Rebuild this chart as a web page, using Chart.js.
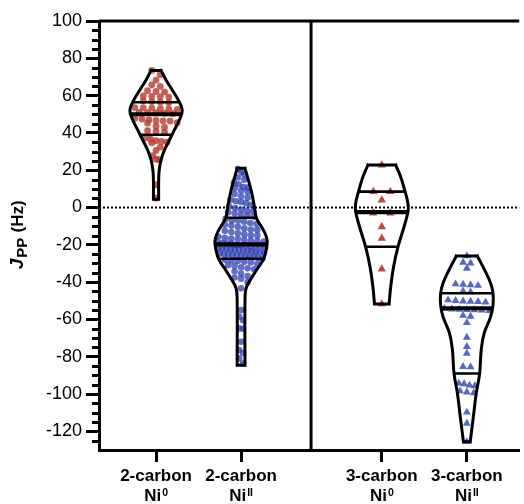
<!DOCTYPE html>
<html>
<head>
<meta charset="utf-8">
<script src="https://cdn.jsdelivr.net/npm/chart.js@4.4.1/dist/chart.umd.min.js"></script>
<style>
  html, body { margin: 0; padding: 0; background: #fff; }
</style>
</head>
<body>
<canvas id="violinChart" width="524" height="504"></canvas>
<script>
// categories, placed on a linear x axis (gap between the two families)
var groupNames = ['2-carbon', '2-carbon', '3-carbon', '3-carbon'];
var groupSup = ['0', 'II', '0', 'II'];
var groupPos = [1, 2, 3.655, 4.655];
var dividerPos = 2.823;
var xMin = 0.329, xMax = 5.271;

// y tick labels
var yMajorTicks = [-120, -100, -80, -60, -40, -20, 0, 20, 40, 60, 80, 100];
var yMin = -130, yMax = 100;

// J_PP values (Hz)
var c2Ni0 = [73.5, 71.2, 68.3, 65.8, 65.0, 62.6, 62.2, 62.0, 59.8, 59.4, 59.2, 59.6,
  57.1, 56.8, 56.5, 56.2, 53.6, 53.3, 53.0, 52.8, 53.4, 52.6, 51.0, 50.8, 50.6, 50.9, 50.4,
  47.8, 47.4, 47.0, 46.7, 46.5, 46.4, 45.5, 45.2, 43.6, 43.1, 41.2, 40.8, 40.4,
  37.4, 36.6, 35.8, 35.4, 35.1, 34.7, 32.4, 30.6, 27.8, 25.9, 25.6, 12.2, 5.0];
var c2NiII = [20.6, 19.2, 17.8, 16.1, 14.9, 13.2, 12.5, 11.0, 10.3, 9.1, 8.4, 7.2, 6.0, 5.3,
  4.1, 3.4, 2.2, 1.5, 0.6, -0.3, -1.1, -1.8, -2.6, -3.2, -3.9, -4.5, -5.0, 10.8, 3.0, -2.0,
  -6.1, -6.8, -7.6, -8.3, -8.9, -9.7, -10.4, -11.2, -11.8, -12.5, -13.1, -13.8, -14.4, -15.0,
  -15.7, -16.3, -16.9, -17.4, -18.0, -18.6, -19.1, -19.5, -9.2, -12.0, -14.9, -16.6, -17.8,
  -18.3, -19.3, -7.1,
  -20.1, -20.4, -20.7, -21.0, -21.3, -21.7, -22.0, -22.4, -22.8, -23.1, -23.5, -23.9, -24.3,
  -24.6, -25.0, -25.4, -25.8, -26.2, -26.6, -27.0, -27.3, -20.9, -21.9, -22.6, -23.3, -24.0,
  -24.9, -25.6, -26.4, -20.2,
  -28.0, -28.7, -29.5, -30.3, -31.2, -32.0, -33.1, -34.2, -35.4, -36.8, -38.2, -40.1, -43.3,
  -55.0, -58.4, -60.4, -64.8, -65.0, -72.0, -76.4, -78.0, -80.9, -83.6, -29.1, -30.9, -32.6,
  -28.4, -37.5];
var c3Ni0 = [22.8, 8.5, 8.5, 4.0, -3.0, -3.0, -10.3, -16.5, -33.0, -51.7];
var c3NiII = [-26.0, -29.4, -29.8, -32.6, -41.2, -41.8, -41.5, -41.0, -44.8, -45.3,
  -49.6, -50.3, -50.8, -49.9, -50.2, -50.5, -54.6, -54.8, -55.3, -54.5, -54.2, -54.9, -55.1,
  -57.9, -58.4, -61.8, -69.6, -74.6, -78.2, -85.3, -85.5, -94.2, -94.6, -95.3, -95.6,
  -98.4, -99.0, -99.4, -109.8, -115.7, -125.6];

// violin outlines: levels (Hz) and relative width at each level
var c2Ni0Levels = [73.5, 68.4, 63.0, 57.6, 52.3, 46.9, 41.6, 36.2, 30.8, 25.5, 20.0, 14.7, 4.5];
var c2Ni0Density = [0.19, 0.38, 0.62, 0.85, 1.0, 0.89, 0.70, 0.51, 0.32, 0.19, 0.12, 0.10, 0.10];
var c2NiIILevels = [21.0, 14.7, 7.6, 0.4, -5.8, -10.3, -14.7, -18.3, -22.8, -28.1, -33.5, -38.9, -43.3, -49.6, -84.5];
var c2NiIIDensity = [0.15, 0.28, 0.41, 0.51, 0.59, 0.78, 0.94, 1.0, 0.96, 0.84, 0.59, 0.35, 0.19, 0.15, 0.15];
var c3Ni0Levels = [22.8, 16.5, 8.5, 2.2, -2.2, -10.3, -21.0, -31.7, -42.5, -51.7];
var c3Ni0Density = [0.53, 0.72, 0.89, 1.0, 1.0, 0.85, 0.62, 0.45, 0.34, 0.28];
var c3NiIILevels = [-26.0, -33.5, -40.6, -46.0, -52.3, -58.5, -67.5, -76.4, -88.9, -99.6, -112.2, -125.6];
var c3NiIIDensity = [0.40, 0.68, 0.91, 1.0, 1.0, 0.91, 0.66, 0.55, 0.49, 0.36, 0.25, 0.13];

// quartiles: [Q3, median, Q1]
var c2Ni0Quart = [56.4, 50.0, 39.0];
var c2NiIIQuart = [-5.5, -19.8, -27.5];
var c3Ni0Quart = [8.5, -2.5, -21.0];
var c3NiIIQuart = [-46.0, -54.0, -89.0];

var groups = [
  { values: c2Ni0, levels: c2Ni0Levels, dens: c2Ni0Density, quart: c2Ni0Quart,
    color: 'rgba(186, 62, 50, 0.82)', style: 'circle', radius: 3.4, rowPx: 4.5, stepPx: 8.5 },
  { values: c2NiII, levels: c2NiIILevels, dens: c2NiIIDensity, quart: c2NiIIQuart,
    color: 'rgba(38, 56, 176, 0.72)', style: 'circle', radius: 3.3, rowPx: 5.4, stepPx: 6.5 },
  { values: c3Ni0, levels: c3Ni0Levels, dens: c3Ni0Density, quart: c3Ni0Quart,
    color: 'rgba(180, 56, 44, 0.92)', style: 'triangle', radius: 4.8, rowPx: 3, stepPx: 17 },
  { values: c3NiII, levels: c3NiIILevels, dens: c3NiIIDensity, quart: c3NiIIQuart,
    color: 'rgba(56, 76, 186, 0.85)', style: 'triangle', radius: 4.6, rowPx: 4, stepPx: 7.5 }
];

var violinHalfWidth = 0.308;
var fontFamily = 'Arial, "Liberation Sans", sans-serif';

function widthAt(levels, dens, v) {
  for (var i = 0; i < levels.length - 1; i++) {
    var a = levels[i], b = levels[i + 1];
    if (v <= a && v >= b) {
      var t = (a - v) / (a - b);
      return (dens[i] + t * (dens[i + 1] - dens[i])) * violinHalfWidth;
    }
  }
  return 0;
}

function violinOutline(cx, levels, dens) {
  var right = [], left = [];
  for (var i = 0; i < levels.length; i++) {
    var w = dens[i] * violinHalfWidth;
    right.push({ x: cx + w, y: levels[i] });
    left.push({ x: cx - w, y: levels[i] });
  }
  var n = levels.length - 1;
  var w0 = dens[0] * violinHalfWidth, wn = dens[n] * violinHalfWidth;
  return right.concat([{ x: cx, y: null }], left, [{ x: cx, y: null }],
    [{ x: cx - w0, y: levels[0] }, { x: cx + w0, y: levels[0] }], [{ x: cx, y: null }],
    [{ x: cx - wn, y: levels[n] }, { x: cx + wn, y: levels[n] }]);
}

function quartLines(which) {
  var pts = [];
  groups.forEach(function (g, i) {
    var cx = groupPos[i];
    which.forEach(function (k) {
      var q = g.quart[k];
      var w = widthAt(g.levels, g.dens, q);
      if (pts.length) pts.push({ x: cx, y: null });
      pts.push({ x: cx - w, y: q }, { x: cx + w, y: q });
    });
  });
  return pts;
}

var datasets = [];
// points
groups.forEach(function (g, i) {
  datasets.push({
    type: 'scatter', order: 2,
    data: g.values.map(function (v) { return { x: groupPos[i], y: v }; }),
    pointStyle: g.style, pointRadius: g.radius, pointBackgroundColor: g.color,
    pointBorderWidth: 0, borderColor: g.color
  });
});
// violin outlines
groups.forEach(function (g, i) {
  datasets.push({
    type: 'line', order: 1, data: violinOutline(groupPos[i], g.levels, g.dens),
    borderColor: '#000', borderWidth: 3, tension: 0.4, pointRadius: 0,
    fill: false, spanGaps: false, borderCapStyle: 'square', clip: false
  });
});
datasets.push({ type: 'line', order: 1, data: quartLines([0, 2]), borderColor: '#000',
  borderWidth: 2.6, pointRadius: 0, tension: 0, spanGaps: false, fill: false });
datasets.push({ type: 'line', order: 1, data: quartLines([1]), borderColor: '#000',
  borderWidth: 4.2, pointRadius: 0, tension: 0, spanGaps: false, fill: false });
// frame: zero line, top line, divider
datasets.push({ type: 'line', order: 3, data: [{ x: xMin, y: 0 }, { x: xMax, y: 0 }],
  borderColor: '#000', borderWidth: 2, borderDash: [2, 2], pointRadius: 0, clip: false });
datasets.push({ type: 'line', order: 1, data: [{ x: xMin, y: yMax }, { x: xMax, y: yMax }],
  borderColor: '#000', borderWidth: 3, pointRadius: 0, clip: false });
datasets.push({ type: 'line', order: 1, data: [{ x: dividerPos, y: yMin }, { x: dividerPos, y: yMax }],
  borderColor: '#000', borderWidth: 3, pointRadius: 0, clip: false });

var extras = {
  id: 'extras',
  afterDraw: function (chart) {
    var ctx = chart.ctx, ys = chart.scales.y, xs = chart.scales.x, area = chart.chartArea;
    ctx.save();
    // minor ticks every 5
    ctx.strokeStyle = '#000';
    ctx.lineWidth = 3;
    for (var v = -125; v < yMax; v += 5) {
      if (v % 20 === 0) continue;
      var py = Math.round(ys.getPixelForValue(v)) + 0.5;
      ctx.beginPath();
      ctx.moveTo(ys.right - 7, py);
      ctx.lineTo(ys.right, py);
      ctx.stroke();
    }
    // y title  J_PP (Hz)
    ctx.fillStyle = '#000';
    ctx.textBaseline = 'alphabetic';
    ctx.translate(23, (area.top + area.bottom) / 2);
    ctx.rotate(-Math.PI / 2);
    var fJ = 'italic bold 19px ' + fontFamily, fSub = 'bold 15px ' + fontFamily, fMain = 'bold 17px ' + fontFamily;
    ctx.font = fJ; var wJ = ctx.measureText('J').width;
    ctx.font = fSub; var wS = ctx.measureText('PP').width;
    ctx.font = fMain; var wM = ctx.measureText(' (Hz)').width;
    var x0 = -(wJ + wS + wM) / 2;
    ctx.font = fJ; ctx.fillText('J', x0, 0);
    ctx.font = fSub; ctx.fillText('PP', x0 + wJ + 1, 4);
    ctx.font = fMain; ctx.fillText(' (Hz)', x0 + wJ + wS + 1.5, 0);
    ctx.restore();
    // second line of category labels: Ni with superscript
    ctx.save();
    ctx.fillStyle = '#000';
    ctx.textBaseline = 'alphabetic';
    groupPos.forEach(function (p, i) {
      var px = xs.getPixelForValue(p);
      ctx.font = 'bold 17px ' + fontFamily; var wNi = ctx.measureText('Ni').width;
      ctx.font = 'bold 10.5px ' + fontFamily; var wSup = ctx.measureText(groupSup[i]).width;
      var sx = px - (wNi + 1 + wSup) / 2;
      ctx.font = 'bold 17px ' + fontFamily; ctx.fillText('Ni', sx, 501);
      ctx.font = 'bold 10.5px ' + fontFamily; ctx.fillText(groupSup[i], sx + wNi + 1, 496);
    });
    ctx.restore();
  }
};

var chart = new Chart(document.getElementById('violinChart').getContext('2d'), {
  type: 'scatter',
  data: { datasets: datasets },
  options: {
    responsive: false,
    devicePixelRatio: 1,
    animation: false,
    events: [],
    layout: { padding: { top: 21, left: 0, right: 0, bottom: 0 } },
    plugins: { legend: { display: false }, tooltip: { enabled: false } },
    scales: {
      x: {
        type: 'linear', min: xMin, max: xMax,
        afterBuildTicks: function (s) { s.ticks = groupPos.map(function (v) { return { value: v }; }); },
        afterFit: function (s) { s.height = 54; },
        ticks: {
          callback: function (v, i) { return groupNames[i]; },
          font: { family: fontFamily, size: 17, weight: 'bold' }, color: '#000',
          padding: 4, maxRotation: 0, autoSkip: false
        },
        grid: { drawOnChartArea: false, tickLength: 12, tickWidth: 3, color: '#000' },
        border: { width: 3, color: '#000' }
      },
      y: {
        type: 'linear', min: yMin, max: yMax,
        afterBuildTicks: function (s) { s.ticks = yMajorTicks.map(function (v) { return { value: v }; }); },
        afterFit: function (s) { s.width = 99; },
        ticks: { font: { family: fontFamily, size: 18 }, color: '#000', padding: 4 },
        grid: { drawOnChartArea: false, tickLength: 13, tickWidth: 3, color: '#000' },
        border: { width: 3, color: '#000' }
      }
    }
  },
  plugins: [extras]
});

// lay points out in centred rows (swarm) that stay inside the violin, using the chart's scales
function swarm(g, cx) {
  var ys = chart.scales.y, xs = chart.scales.x;
  var unit = xs.getPixelForValue(1) - xs.getPixelForValue(0);
  var sorted = g.values.slice().sort(function (a, b) { return b - a; });
  var rows = [], cur = null;
  sorted.forEach(function (v) {
    var p = ys.getPixelForValue(v);
    if (!cur || p - cur.start > g.rowPx) { cur = { start: p, vals: [] }; rows.push(cur); }
    cur.vals.push(v);
  });
  var out = [];
  rows.forEach(function (r) {
    var n = r.vals.length;
    var mid = r.vals[Math.floor(n / 2)];
    var room = 2 * widthAt(g.levels, g.dens, mid) * unit - g.radius * 1.2;
    var step = g.stepPx;
    if (n > 1 && (n - 1) * step > room) step = Math.max(1.5, room / (n - 1));
    r.vals.forEach(function (v, k) {
      out.push({ x: cx + (k - (n - 1) / 2) * step / unit, y: v });
    });
  });
  return out;
}
groups.forEach(function (g, i) { chart.data.datasets[i].data = swarm(g, groupPos[i]); });
chart.update('none');
</script>
</body>
</html>
